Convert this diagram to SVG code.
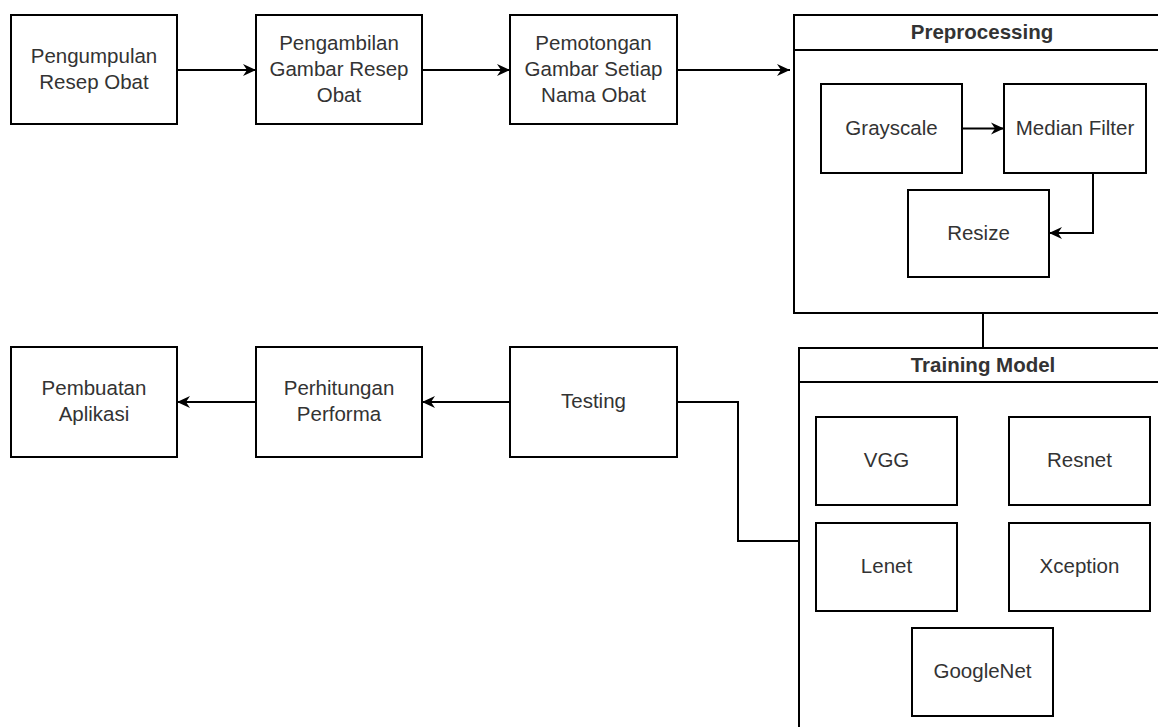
<svg xmlns="http://www.w3.org/2000/svg" width="1158" height="727" viewBox="0 0 1158 727">
<defs>
<marker id="arr" markerUnits="userSpaceOnUse" markerWidth="16" markerHeight="14" refX="13" refY="7" orient="auto">
<path d="M0,1 L13,7 L0,13 L4,7 Z" fill="#000"/>
</marker>
<style>
.box{fill:#fff;stroke:#000;stroke-width:2}
.t{font-family:"Liberation Sans",Arial,sans-serif;font-size:20.5px;fill:#333;text-anchor:middle}
.b{font-weight:bold}
.c{fill:none;stroke:#000;stroke-width:2}
</style>
</defs>
<rect width="1158" height="727" fill="#fff"/>
<g id="n1"><rect class="box" x="11" y="15" width="166" height="109"/><text class="t" x="94" y="62.5">Pengumpulan</text><text class="t" x="94" y="88.5">Resep Obat</text></g>
<g id="n2"><rect class="box" x="256" y="15" width="166" height="109"/><text class="t" x="339" y="49.5">Pengambilan</text><text class="t" x="339" y="75.5">Gambar Resep</text><text class="t" x="339" y="101.5">Obat</text></g>
<g id="n3"><rect class="box" x="510" y="15" width="167" height="109"/><text class="t" x="593.5" y="49.5">Pemotongan</text><text class="t" x="593.5" y="75.5">Gambar Setiap</text><text class="t" x="593.5" y="101.5">Nama Obat</text></g>
<g id="preprocessing"><rect class="box" x="794" y="15" width="380" height="298"/><line class="c" x1="794" y1="50" x2="1174" y2="50"/><text class="t b" x="982" y="39">Preprocessing</text></g>
<g id="grayscale"><rect class="box" x="821" y="84" width="141" height="89"/><text class="t" x="891.5" y="134.5">Grayscale</text></g>
<g id="median"><rect class="box" x="1004" y="84" width="142" height="89"/><text class="t" x="1075" y="134.5">Median Filter</text></g>
<g id="resize"><rect class="box" x="908" y="190" width="141" height="87"/><text class="t" x="978.5" y="239.5">Resize</text></g>
<g id="training"><rect class="box" x="799" y="348" width="380" height="420"/><line class="c" x1="799" y1="382" x2="1179" y2="382"/><text class="t b" x="983" y="372">Training Model</text></g>
<g id="vgg"><rect class="box" x="816" y="417" width="141" height="88"/><text class="t" x="886.5" y="467">VGG</text></g>
<g id="resnet"><rect class="box" x="1009" y="417" width="141" height="88"/><text class="t" x="1079.5" y="467">Resnet</text></g>
<g id="lenet"><rect class="box" x="816" y="523" width="141" height="88"/><text class="t" x="886.5" y="573">Lenet</text></g>
<g id="xception"><rect class="box" x="1009" y="523" width="141" height="88"/><text class="t" x="1079.5" y="573">Xception</text></g>
<g id="googlenet"><rect class="box" x="912" y="628" width="141" height="88"/><text class="t" x="982.5" y="678">GoogleNet</text></g>
<g id="n4"><rect class="box" x="510" y="347" width="167" height="110"/><text class="t" x="593.5" y="408">Testing</text></g>
<g id="n5"><rect class="box" x="256" y="347" width="166" height="110"/><text class="t" x="339" y="395">Perhitungan</text><text class="t" x="339" y="421">Performa</text></g>
<g id="n6"><rect class="box" x="11" y="347" width="166" height="110"/><text class="t" x="94" y="395">Pembuatan</text><text class="t" x="94" y="421">Aplikasi</text></g>
<g id="connectors">
<line class="c" x1="177" y1="70" x2="256" y2="70" marker-end="url(#arr)"/>
<line class="c" x1="422" y1="70" x2="510" y2="70" marker-end="url(#arr)"/>
<line class="c" x1="677" y1="70" x2="790" y2="70" marker-end="url(#arr)"/>
<line class="c" x1="962" y1="128.5" x2="1004" y2="128.5" marker-end="url(#arr)"/>
<polyline class="c" points="1093,173 1093,233 1049,233" marker-end="url(#arr)"/>
<line class="c" x1="983" y1="313" x2="983" y2="348"/>
<polyline class="c" points="677,402 738,402 738,541 799,541"/>
<line class="c" x1="510" y1="402" x2="422" y2="402" marker-end="url(#arr)"/>
<line class="c" x1="256" y1="402" x2="177" y2="402" marker-end="url(#arr)"/>
</g>
</svg>
